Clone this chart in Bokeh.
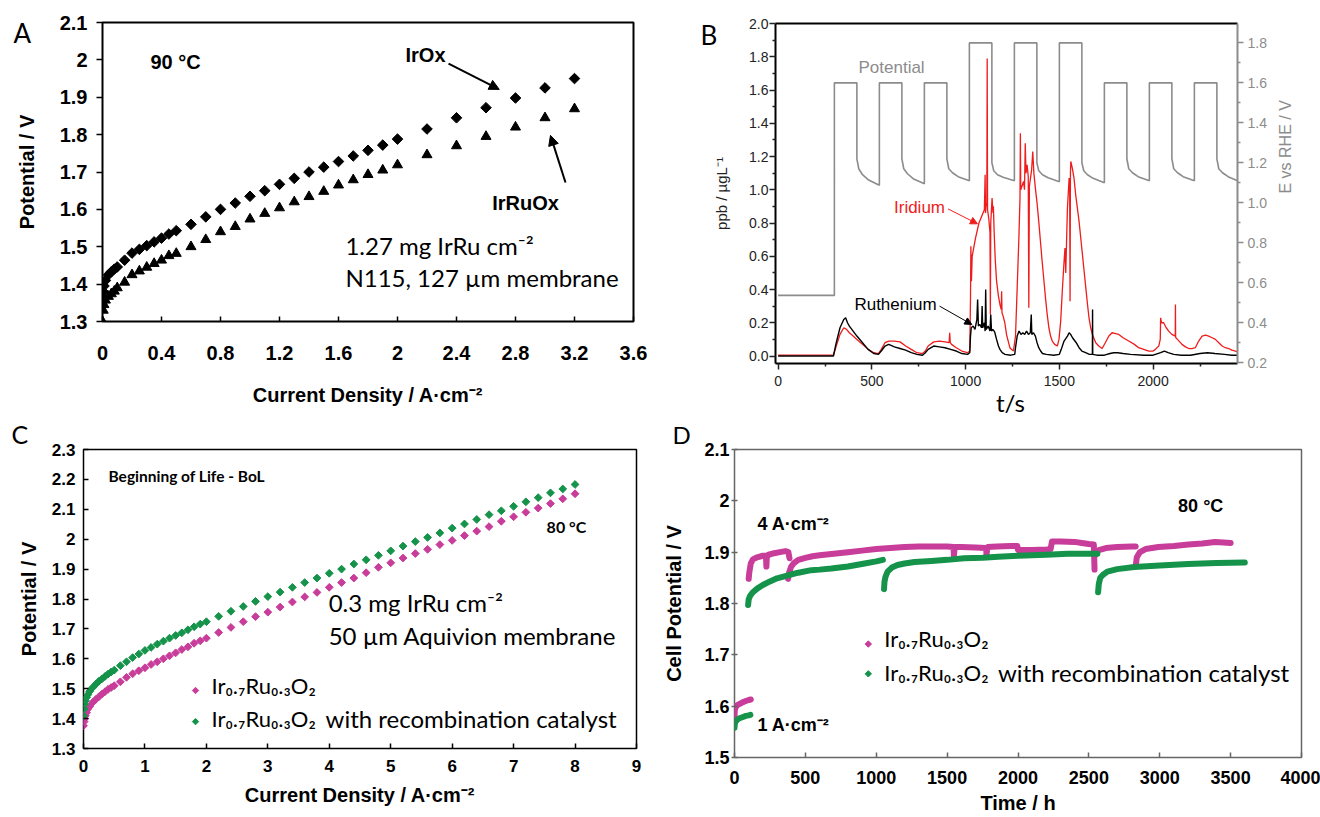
import math
from bokeh.plotting import figure
from bokeh.layouts import column, row
from bokeh.models import (Label, Arrow, NormalHead, LinearAxis, Range1d, FixedTicker,
                          CustomJSTickFormatter)
from bokeh.embed import file_html
from bokeh.resources import INLINE

# ---------------- Panel A data ----------------
a_j = [0, 0.005, 0.01, 0.02, 0.04, 0.06, 0.08, 0.1, 0.15, 0.2, 0.25, 0.3, 0.35, 0.4, 0.45, 0.5,
       0.6, 0.7, 0.8, 0.9, 1.0, 1.1, 1.2, 1.3, 1.4, 1.5, 1.6, 1.7, 1.8, 1.9, 2.0,
       2.2, 2.4, 2.6, 2.8, 3.0, 3.2]
a_irox = [1.36, 1.38, 1.395, 1.41, 1.425, 1.433, 1.44, 1.446, 1.464, 1.483, 1.493, 1.503, 1.513,
          1.523, 1.534, 1.543, 1.56, 1.58, 1.60, 1.617, 1.635, 1.65, 1.667, 1.683, 1.70, 1.713,
          1.728, 1.743, 1.758, 1.772, 1.788, 1.815, 1.845, 1.872, 1.898, 1.925, 1.95]
a_irruox = [1.30, 1.33, 1.345, 1.357, 1.367, 1.374, 1.381, 1.39, 1.405, 1.425, 1.435, 1.445, 1.455,
            1.464, 1.476, 1.482, 1.50, 1.519, 1.54, 1.554, 1.574, 1.589, 1.604, 1.62, 1.634, 1.648,
            1.665, 1.679, 1.693, 1.705, 1.719, 1.746, 1.77, 1.795, 1.82, 1.845, 1.869]
a_xticks = [0, 0.4, 0.8, 1.2, 1.6, 2.0, 2.4, 2.8, 3.2, 3.6]
a_yticks = [1.3, 1.4, 1.5, 1.6, 1.7, 1.8, 1.9, 2.0, 2.1]

# ---------------- Panel B data ----------------
b_pot_t = [0, 300, 300, 420, 420, 430, 450, 480, 540, 540, 660, 660, 670, 690, 720, 780, 780, 900,
           900, 910, 930, 960, 1020, 1020, 1140, 1140, 1150, 1170, 1200, 1260, 1260, 1380, 1380,
           1390, 1410, 1440, 1500, 1500, 1620, 1620, 1630, 1650, 1680, 1740, 1740, 1860, 1860,
           1870, 1890, 1920, 1980, 1980, 2100, 2100, 2110, 2130, 2160, 2220, 2220, 2340, 2340,
           2350, 2370, 2400, 2450]
b_pot_v = [0.536, 0.536, 1.6, 1.6, 1.22, 1.17, 1.14, 1.115, 1.087, 1.6, 1.6, 1.22, 1.17, 1.145,
           1.12, 1.095, 1.6, 1.6, 1.22, 1.17, 1.15, 1.13, 1.11, 1.8, 1.8, 1.20, 1.16, 1.14, 1.127,
           1.11, 1.8, 1.8, 1.20, 1.16, 1.14, 1.125, 1.105, 1.8, 1.8, 1.20, 1.16, 1.14, 1.122, 1.10,
           1.6, 1.6, 1.22, 1.17, 1.15, 1.13, 1.11, 1.6, 1.6, 1.22, 1.17, 1.15, 1.13, 1.11, 1.6,
           1.6, 1.22, 1.17, 1.15, 1.13, 1.11]
b_ir_t = [0, 295, 310, 330, 350, 365, 380, 400, 420, 450, 480, 510, 535, 550, 570, 590, 620, 650,
          680, 710, 740, 770, 785, 800, 830, 860, 890, 912, 915, 918, 925, 950, 980, 1010, 1022,
          1026, 1028, 1031, 1035, 1053, 1071, 1089, 1100, 1104, 1106, 1110, 1113, 1115, 1117,
          1124, 1130, 1132, 1134, 1141, 1146, 1148, 1152, 1158, 1165, 1175, 1183, 1190, 1192,
          1194, 1200, 1209, 1218, 1227, 1236, 1244, 1255, 1266, 1275, 1284, 1290, 1292, 1294,
          1300, 1309, 1314, 1318, 1322, 1328, 1334, 1337, 1340, 1346, 1352, 1358, 1364, 1372,
          1381, 1390, 1399, 1408, 1417, 1426, 1435, 1444, 1453, 1462, 1475, 1489, 1498, 1507,
          1516, 1525, 1530, 1534, 1543, 1552, 1555, 1557, 1559, 1561, 1569, 1578, 1587, 1596,
          1605, 1614, 1623, 1632, 1641, 1650, 1658, 1667, 1676, 1694, 1710, 1728, 1745, 1764,
          1781, 1800, 1817, 1840, 1870, 1900, 1923, 1950, 1977, 2000, 2012, 2030, 2038, 2040,
          2045, 2056, 2070, 2083, 2100, 2118, 2119, 2120, 2121, 2130, 2154, 2172, 2190, 2207,
          2225, 2243, 2261, 2280, 2296, 2315, 2332, 2350, 2368, 2385, 2403, 2420, 2439, 2450]
b_ir_c = [0.005, 0.005, 0.06, 0.13, 0.17, 0.16, 0.14, 0.12, 0.10, 0.07, 0.04, 0.02, 0.015, 0.04,
          0.08, 0.09, 0.09, 0.085, 0.06, 0.04, 0.02, 0.015, 0.03, 0.06, 0.085, 0.09, 0.085, 0.08,
          0.14, 0.08, 0.07, 0.05, 0.03, 0.02, 0.03, 0.35, 0.66, 0.45, 0.60, 0.71, 0.80, 0.85,
          0.88, 1.09, 0.86, 0.92, 0.90, 1.79, 0.88, 0.82, 0.74, 0.25, 0.80, 0.95, 0.86, 0.90,
          0.75, 0.58, 0.45, 0.36, 0.31, 0.28, 0.39, 0.26, 0.24, 0.20, 0.13, 0.09, 0.05, 0.04,
          0.03, 0.12, 0.41, 0.71, 0.95, 1.34, 1.00, 1.02, 1.05, 1.00, 1.28, 1.10, 1.15, 1.08,
          0.29, 1.02, 1.07, 1.12, 1.23, 1.10, 1.01, 0.92, 0.81, 0.69, 0.57, 0.46, 0.35, 0.25,
          0.17, 0.12, 0.09, 0.07, 0.06, 0.10, 0.21, 0.40, 0.57, 0.65, 0.50, 0.89, 1.07, 1.00,
          0.33, 1.10, 1.17, 1.13, 1.07, 0.97, 0.89, 0.81, 0.71, 0.61, 0.51, 0.41, 0.31, 0.23,
          0.17, 0.13, 0.08, 0.06, 0.045, 0.08, 0.12, 0.14, 0.135, 0.13, 0.11, 0.09, 0.07, 0.05,
          0.04, 0.03, 0.03, 0.04, 0.06, 0.10, 0.23, 0.20, 0.20, 0.17, 0.15, 0.13, 0.12, 0.31,
          0.12, 0.11, 0.10, 0.07, 0.055, 0.045, 0.045, 0.05, 0.09, 0.12, 0.125, 0.12, 0.11, 0.10,
          0.08, 0.06, 0.05, 0.045, 0.035, 0.03, 0.025]
b_ru_t = [0, 295, 310, 330, 350, 360, 370, 380, 400, 420, 450, 480, 510, 535, 550, 570, 590, 620,
          650, 680, 710, 740, 770, 785, 800, 830, 860, 890, 920, 950, 980, 1010, 1022, 1026, 1030,
          1040, 1050, 1060, 1064, 1068, 1075, 1085, 1088, 1091, 1100, 1104, 1107, 1110, 1120,
          1130, 1134, 1138, 1145, 1152, 1156, 1165, 1175, 1183, 1195, 1210, 1240, 1262, 1266,
          1275, 1285, 1295, 1305, 1315, 1325, 1335, 1345, 1350, 1353, 1362, 1372, 1381, 1390,
          1400, 1410, 1430, 1470, 1500, 1510, 1525, 1543, 1552, 1560, 1570, 1590, 1605, 1620,
          1640, 1660, 1676, 1677, 1678, 1700, 1740, 1770, 1790, 1810, 1840, 1880, 1950, 2000,
          2040, 2060, 2080, 2110, 2150, 2200, 2250, 2290, 2330, 2380, 2420, 2450]
b_ru_c = [0.0, 0.0, 0.08, 0.17, 0.22, 0.23, 0.20, 0.18, 0.15, 0.12, 0.08, 0.04, 0.015, 0.01, 0.03,
          0.06, 0.07, 0.055, 0.045, 0.035, 0.02, 0.01, 0.005, 0.02, 0.04, 0.06, 0.055, 0.05, 0.04,
          0.03, 0.015, 0.01, 0.02, 0.12, 0.17, 0.18, 0.16, 0.22, 0.34, 0.18, 0.19, 0.17, 0.30,
          0.17, 0.20, 0.15, 0.40, 0.16, 0.18, 0.15, 0.25, 0.15, 0.16, 0.15, 0.14, 0.10, 0.06,
          0.04, 0.02, 0.01, 0.005, 0.01, 0.05, 0.12, 0.15, 0.13, 0.14, 0.13, 0.15, 0.13, 0.14,
          0.25, 0.13, 0.14, 0.12, 0.08, 0.05, 0.03, 0.015, 0.01, 0.005, 0.01, 0.04, 0.09, 0.12,
          0.14, 0.13, 0.11, 0.08, 0.05, 0.03, 0.02, 0.01, 0.01, 0.28, 0.01, 0.005, 0.005, 0.015,
          0.02, 0.02, 0.015, 0.01, 0.005, 0.005, 0.02, 0.03, 0.02, 0.01, 0.005, 0.005, 0.015,
          0.02, 0.015, 0.01, 0.005, 0.005]
b_xticks = [0, 500, 1000, 1500, 2000]
b_xminor = [250, 750, 1250, 1750, 2250]
b_lticks = [0.0, 0.2, 0.4, 0.6, 0.8, 1.0, 1.2, 1.4, 1.6, 1.8, 2.0]
b_lminor = [0.1, 0.3, 0.5, 0.7, 0.9, 1.1, 1.3, 1.5, 1.7, 1.9]
b_rticks = [0.2, 0.4, 0.6, 0.8, 1.0, 1.2, 1.4, 1.6, 1.8]
b_rminor = [0.3, 0.5, 0.7, 0.9, 1.1, 1.3, 1.5, 1.7]

# ---------------- Panel C data ----------------
c_j = [0, 0.01, 0.02, 0.03, 0.05, 0.07, 0.1, 0.15, 0.2, 0.25, 0.3, 0.35, 0.4, 0.45, 0.5, 0.6, 0.7,
       0.8, 0.9, 1.0, 1.1, 1.2, 1.3, 1.4, 1.5, 1.6, 1.7, 1.8, 1.9, 2.0, 2.2, 2.4, 2.6, 2.8, 3.0,
       3.2, 3.4, 3.6, 3.8, 4.0, 4.2, 4.4, 4.6, 4.8, 5.0, 5.2, 5.4, 5.6, 5.8, 6.0, 6.2, 6.4, 6.6,
       6.8, 7.0, 7.2, 7.4, 7.6, 7.8, 8.0]
c_irru = [1.376, 1.39, 1.40, 1.41, 1.42, 1.432, 1.44, 1.454, 1.464, 1.473, 1.482, 1.49, 1.498,
          1.504, 1.51, 1.523, 1.538, 1.55, 1.56, 1.57, 1.581, 1.59, 1.60, 1.61, 1.62, 1.631, 1.64,
          1.652, 1.66, 1.669, 1.688, 1.705, 1.724, 1.741, 1.756, 1.773, 1.79, 1.807, 1.822, 1.839,
          1.855, 1.87, 1.888, 1.906, 1.921, 1.937, 1.952, 1.966, 1.982, 1.996, 2.012, 2.027,
          2.042, 2.06, 2.075, 2.09, 2.104, 2.119, 2.135, 2.152]
c_irru_rec = [1.41, 1.432, 1.449, 1.46, 1.471, 1.48, 1.491, 1.504, 1.515, 1.525, 1.533, 1.541,
              1.549, 1.556, 1.562, 1.577, 1.59, 1.604, 1.616, 1.628, 1.638, 1.649, 1.659, 1.669,
              1.678, 1.687, 1.697, 1.707, 1.716, 1.724, 1.742, 1.759, 1.775, 1.792, 1.808, 1.823,
              1.839, 1.855, 1.87, 1.886, 1.90, 1.917, 1.931, 1.946, 1.961, 1.977, 1.992, 2.006,
              2.021, 2.037, 2.051, 2.066, 2.082, 2.095, 2.11, 2.125, 2.139, 2.155, 2.168, 2.183]
c_xticks = [0, 1, 2, 3, 4, 5, 6, 7, 8, 9]
c_yticks = [1.3, 1.4, 1.5, 1.6, 1.7, 1.8, 1.9, 2.0, 2.1, 2.2, 2.3]

# ---------------- Panel D data (segments) ----------------
d_m_t = [
    [0, 2, 8, 20, 40, 60, 80, 100, 115],
    [100, 105, 115, 130, 160, 200, 222, 225, 228, 240, 280, 320, 360, 380, 388],
    [378, 385, 400, 420, 450, 500, 550, 600, 700, 800, 900, 1000, 1100, 1200, 1300, 1400, 1500,
     1545, 1548, 1552, 1556, 1600, 1700, 1775, 1778, 1782, 1786, 1850, 1950, 1995, 2000, 2010,
     2100, 2200, 2230, 2240, 2300, 2400, 2450, 2500, 2535, 2540],
    [2548, 2555, 2570, 2620, 2700, 2800, 2830],
    [2830, 2838, 2860, 2900, 2991, 3100, 3202, 3300, 3390, 3450, 3500],
]
d_m_v = [
    [1.580, 1.592, 1.598, 1.602, 1.605, 1.608, 1.610, 1.612, 1.613],
    [1.848, 1.862, 1.878, 1.886, 1.890, 1.893, 1.893, 1.872, 1.890, 1.895, 1.898, 1.900, 1.902,
     1.900, 1.888],
    [1.848, 1.860, 1.872, 1.879, 1.885, 1.889, 1.892, 1.894, 1.897, 1.900, 1.903, 1.906, 1.908,
     1.910, 1.911, 1.911, 1.911, 1.910, 1.893, 1.905, 1.910, 1.910, 1.909, 1.908, 1.895, 1.905,
     1.910, 1.911, 1.912, 1.912, 1.904, 1.904, 1.904, 1.905, 1.906, 1.921, 1.921, 1.920, 1.918,
     1.916, 1.915, 1.866],
    [1.895, 1.900, 1.904, 1.908, 1.910, 1.911, 1.911],
    [1.872, 1.890, 1.900, 1.906, 1.910, 1.912, 1.915, 1.917, 1.920, 1.919, 1.918],
]
d_g_t = [
    [0, 2, 8, 20, 40, 60, 80, 100, 112],
    [96, 100, 110, 130, 160, 200, 250, 300, 378, 450, 542, 600, 683, 800, 918, 1000, 1047],
    [1055, 1058, 1065, 1080, 1110, 1150, 1200, 1270, 1390, 1500, 1620, 1750, 1860, 2000, 2100,
     2200, 2350, 2450, 2560],
    [2565, 2570, 2580, 2600, 2630, 2700, 2820, 3000, 3200, 3400, 3600],
]
d_g_v = [
    [1.558, 1.565, 1.570, 1.574, 1.577, 1.579, 1.581, 1.582, 1.583],
    [1.797, 1.808, 1.815, 1.822, 1.829, 1.836, 1.843, 1.849, 1.855, 1.860, 1.865, 1.866, 1.868,
     1.872, 1.878, 1.882, 1.885],
    [1.828, 1.842, 1.852, 1.862, 1.870, 1.875, 1.878, 1.881, 1.883, 1.885, 1.888, 1.889, 1.891,
     1.893, 1.894, 1.895, 1.897, 1.897, 1.897],
    [1.822, 1.838, 1.850, 1.856, 1.862, 1.867, 1.871, 1.874, 1.877, 1.879, 1.880],
]
d_xticks = [0, 500, 1000, 1500, 2000, 2500, 3000, 3500, 4000]
d_yticks = [1.5, 1.6, 1.7, 1.8, 1.9, 2.0, 2.1]

MAG = "#c83c9a"
GRN = "#15934a"
RED = "#ee1c1c"
GRAY = "#8c8c8c"
AX_FONT = "Liberation Sans"
TX_FONT = "Lato"

trim = CustomJSTickFormatter(code="return String(Number(tick.toFixed(2)));")
one_dec = CustomJSTickFormatter(code="return tick.toFixed(1);")


def base_fig(w, h, xr, yr, mb):
    p = figure(width=w, height=h, x_range=xr, y_range=yr, output_backend="svg",
               toolbar_location=None, min_border_left=mb[0], min_border_right=mb[1],
               min_border_top=mb[2], min_border_bottom=mb[3])
    if "frame_align" in p.properties():
        p.frame_align = False
    p.xgrid.visible = False
    p.ygrid.visible = False
    p.background_fill_color = "white"
    p.border_fill_color = "white"
    return p


def style_axis(ax, ticks, size, tick_in, tick_out, standoff, label, lsize, lstandoff,
               color="black", minor=None, fmt=None, bold=True):
    ax.ticker = FixedTicker(ticks=ticks, minor_ticks=minor or [])
    if fmt is not None:
        ax.formatter = fmt
    ax.major_tick_in = tick_in
    ax.major_tick_out = tick_out
    ax.major_tick_line_color = color
    ax.major_tick_line_width = 1.5
    if minor:
        ax.minor_tick_in = 0
        ax.minor_tick_out = 3
        ax.minor_tick_line_color = color
        ax.minor_tick_line_width = 1.5
    else:
        ax.minor_tick_line_color = None
    ax.major_label_text_font = AX_FONT
    ax.major_label_text_font_size = f"{size}px"
    ax.major_label_text_font_style = "bold" if bold else "normal"
    ax.major_label_text_color = color
    ax.major_label_standoff = standoff
    ax.axis_label = label
    ax.axis_label_text_font = AX_FONT
    ax.axis_label_text_font_size = f"{lsize}px"
    ax.axis_label_text_font_style = "bold" if bold else "normal"
    ax.axis_label_text_color = color
    ax.axis_label_standoff = lstandoff


def lab(p, x, y, text, size, font=TX_FONT, style="normal", color="black", align="left",
        baseline="middle", side="center", **kw):
    p.add_layout(Label(x=x, y=y, text=text, text_font=font, text_font_size=f"{size}px",
                       text_font_style=style, text_color=color, text_align=align,
                       text_baseline=baseline, **kw), side)


# ================= Panel A =================
pa = base_fig(660, 417, (0, 3.6), (1.3, 2.1), (102, 27, 22, 96))
pa.outline_line_color = "black"
pa.outline_line_width = 2
style_axis(pa.xaxis[0], a_xticks, 20, 5, 0, 24, "Current Density / A·cm⁻²", 20, 21, fmt=trim)
style_axis(pa.yaxis[0], a_yticks, 20, 0, 6, 9, "Potential / V", 20, 19, fmt=trim)
pa.xaxis[0].axis_line_color = None
pa.yaxis[0].axis_line_color = None
pa.scatter(a_j, a_irox, marker="square", angle=0.785, size=7.5, color="black")
pa.scatter(a_j, a_irruox, marker="triangle", size=10, color="black")
lab(pa, -0.603, 2.072, "A", 26, side="right")
lab(pa, 0.495, 1.993, "90 °C", 20, font=AX_FONT, style="bold", align="center")
lab(pa, 2.19, 2.012, "IrOx", 20, font=AX_FONT, style="bold", align="center")
lab(pa, 2.868, 1.618, "IrRuOx", 20, font=AX_FONT, style="bold", align="center")
lab(pa, 1.647, 1.503, "1.27 mg IrRu cm⁻²", 24)
lab(pa, 1.647, 1.418, "N115, 127 µm membrane", 24)
pa.add_layout(Arrow(end=NormalHead(size=10, fill_color="black", line_color="black"),
                    x_start=2.346, y_start=1.99, x_end=2.69, y_end=1.921,
                    line_color="black", line_width=2))
pa.add_layout(Arrow(end=NormalHead(size=10, fill_color="black", line_color="black"),
                    x_start=3.139, y_start=1.672, x_end=3.037, y_end=1.798,
                    line_color="black", line_width=2))

# ================= Panel B =================
pb = base_fig(659, 417, (-14, 2450), (-0.045, 2.0), (115, 82, 23, 54))
pb.outline_line_color = None
pb.extra_y_ranges = {"pot": Range1d(0.195, 1.897)}
style_axis(pb.xaxis[0], b_xticks, 14, 0, 6, 6, "", 14, 0, color="#222222", minor=b_xminor,
           bold=False)
style_axis(pb.yaxis[0], b_lticks, 14, 0, 6, 1, "ppb / µgL⁻¹", 15, 16, color="#222222",
           minor=b_lminor, fmt=one_dec, bold=False)
pb.xaxis[0].axis_line_width = 2
pb.yaxis[0].axis_line_width = 2
pb.xaxis[0].axis_line_color = "black"
pb.yaxis[0].axis_line_color = "black"
rax = LinearAxis(y_range_name="pot")
style_axis(rax, b_rticks, 14, 0, 6, 4, "E vs RHE / V", 16, 16, color=GRAY, minor=b_rminor,
           fmt=one_dec, bold=False)
rax.axis_line_color = GRAY
rax.axis_line_width = 2
if "axis_label_orientation" in rax.properties():
    rax.axis_label_orientation = math.pi / 2
pb.add_layout(rax, "right")
tax = LinearAxis(ticker=FixedTicker(ticks=[]))
tax.major_label_text_font_size = "0px"
tax.major_tick_line_color = None
tax.minor_tick_line_color = None
tax.axis_line_width = 2
tax.axis_line_color = "black"
pb.add_layout(tax, "above")
pb.line(b_pot_t, b_pot_v, color=GRAY, line_width=1.6, y_range_name="pot")
pb.line(b_ir_t, b_ir_c, color=RED, line_width=1.3)
pb.line(b_ru_t, b_ru_c, color="black", line_width=1.4)
lab(pb, -414, 1.928, "B", 26, side="left")
lab(pb, 605, 1.735, "Potential", 17, font=AX_FONT, color=GRAY, align="center")
lab(pb, 754, 0.892, "Iridium", 17, font=AX_FONT, color=RED, align="center")
lab(pb, 626, 0.307, "Ruthenium", 17, font=AX_FONT, color="black", align="center")
pb.add_layout(Arrow(end=NormalHead(size=7, fill_color=RED, line_color=RED),
                    x_start=906, y_start=0.885, x_end=1063, y_end=0.795,
                    line_color=RED, line_width=1))
pb.add_layout(Arrow(end=NormalHead(size=7, fill_color="black", line_color="black"),
                    x_start=861, y_start=0.30, x_end=1033, y_end=0.19,
                    line_color="black", line_width=1))
lab(pb, 1239, -0.277, "t/s", 24, align="center", side="left")

# ================= Panel C =================
pc = base_fig(660, 399, (0, 9), (1.3, 2.3), (83, 24, 32, 68))
pc.outline_line_color = "black"
pc.outline_line_width = 1.5
style_axis(pc.xaxis[0], c_xticks, 17, 5, 0, 11, "Current Density / A·cm⁻²", 20, 9, fmt=trim)
style_axis(pc.yaxis[0], c_yticks, 17, 5, 0, 8, "Potential / V", 20, 9, fmt=trim)
pc.xaxis[0].axis_line_color = None
pc.yaxis[0].axis_line_color = None
pc.scatter(c_j, c_irru, marker="square", angle=0.785, size=5.5, color=MAG)
pc.scatter(c_j, c_irru_rec, marker="square", angle=0.785, size=5.5, color=GRN)
lab(pc, -1.172, 2.3535, "C", 25, side="right")
lab(pc, 0.407, 2.21, "Beginning of Life - BoL", 15.5, style="bold")
lab(pc, 7.86, 2.042, "80 °C", 16, style="bold", align="center")
lab(pc, 3.99, 1.788, "0.3 mg IrRu cm⁻²", 24)
lab(pc, 3.99, 1.678, "50 µm Aquivion membrane", 24)
lab(pc, 2.083, 1.511, "Ir₀.₇Ru₀.₃O₂", 22)
lab(pc, 2.083, 1.40, "Ir₀.₇Ru₀.₃O₂", 22)
lab(pc, 3.94, 1.40, "with recombination catalyst", 24)
pc.scatter([1.823], [1.494], marker="square", angle=0.785, size=4.5, color=MAG)
pc.scatter([1.823], [1.390], marker="square", angle=0.785, size=4.5, color=GRN)

# ================= Panel D =================
pd = base_fig(660, 399, (0, 4000), (1.5, 2.1), (73, 19, 32, 58))
pd.outline_line_color = "#666666"
pd.outline_line_width = 1.5
style_axis(pd.xaxis[0], d_xticks, 18, 5, 0, 13, "Time / h", 20, 5)
style_axis(pd.yaxis[0], d_yticks, 18, 3, 3, 2, "Cell Potential / V", 20, 16, fmt=trim)
pd.xaxis[0].major_tick_line_color = "#666666"
pd.yaxis[0].major_tick_line_color = "#666666"
pd.xaxis[0].axis_line_color = None
pd.yaxis[0].axis_line_color = None
pd.multi_line(d_m_t, d_m_v, line_color=MAG, line_width=6, line_cap="round", line_join="round")
pd.multi_line(d_g_t, d_g_v, line_color=GRN, line_width=6, line_cap="round", line_join="round")
lab(pd, -437, 2.129, "D", 24, side="above")
lab(pd, 3289, 1.989, "80 °C", 18, font=AX_FONT, style="bold", align="center")
lab(pd, 162, 1.954, "4 A·cm⁻²", 18, font=AX_FONT, style="bold")
lab(pd, 162, 1.564, "1 A·cm⁻²", 18, font=AX_FONT, style="bold")
lab(pd, 1056, 1.731, "Ir₀.₇Ru₀.₃O₂", 22)
lab(pd, 1056, 1.665, "Ir₀.₇Ru₀.₃O₂", 22)
lab(pd, 1859, 1.665, "with recombination catalyst", 24)
pd.scatter([944], [1.721], marker="square", angle=0.785, size=4.5, color=MAG)
pd.scatter([944], [1.663], marker="square", angle=0.785, size=4.5, color=GRN)

layout = column(row(pa, pb), row(pc, pd))
open("out.html", "w").write(file_html(layout, INLINE, "Electrolysis panels"))
